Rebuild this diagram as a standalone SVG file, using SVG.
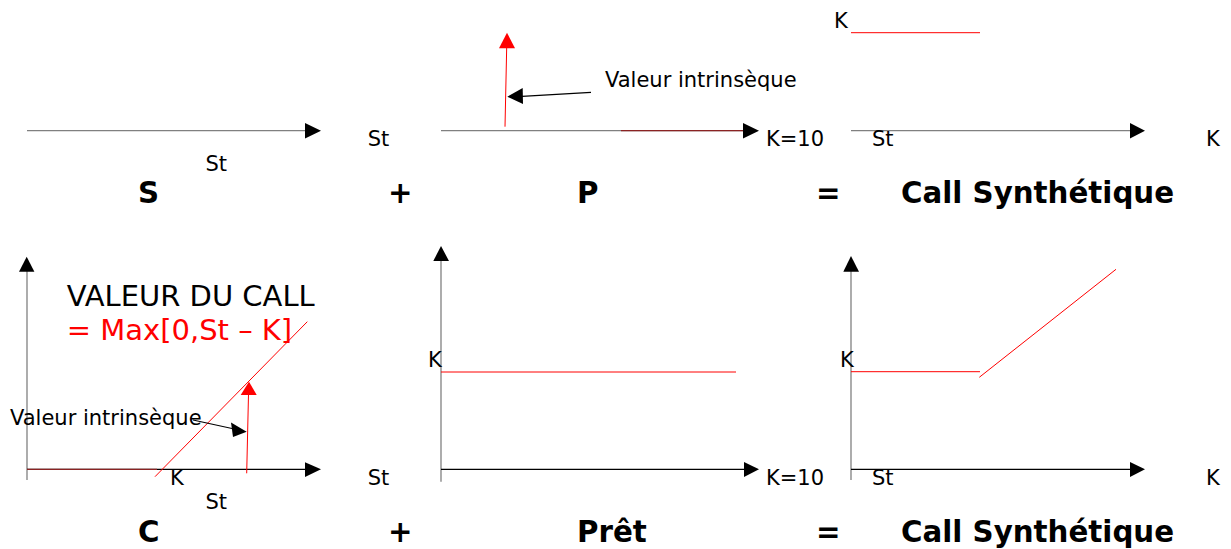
<svg xmlns="http://www.w3.org/2000/svg" width="1231" height="549" viewBox="0 0 1231 549">
<style>
text{font-family:"DejaVu Sans","Liberation Sans",sans-serif;fill:#000}
.s{font-size:21px}
.b{font-size:29.3px;font-weight:bold}
.big{font-size:29px}
.red{fill:#ff0000}
.ax{stroke:#808080;stroke-width:1.3;fill:none}
.axb{stroke:#000;stroke-width:1.3;fill:none}
.rl{stroke:#ff0000;stroke-width:1;fill:none}
.dr{stroke:#8b2323;stroke-width:1.3;fill:none}
.ah{fill:#000}
.rh{fill:#ff0000}
</style>
<rect width="1231" height="549" fill="#fff"/>
<g id="connectors">
<line class="ax" x1="27" y1="130.7" x2="306" y2="130.7"/>
<polygon class="ah" points="305,123 321,130.7 305,138.4"/>
<line class="ax" x1="441" y1="130.7" x2="744" y2="130.7"/>
<line class="dr" x1="621" y1="130.7" x2="744" y2="130.7"/>
<polygon class="ah" points="743,123 759,130.7 743,138.4"/>
<line class="rl" x1="505" y1="126.7" x2="506.7" y2="47"/>
<polygon class="rh" points="499,48.3 507,32.7 515,48.3"/>
<line x1="591" y1="92.3" x2="522" y2="96.3" stroke="#000" stroke-width="1.2"/>
<polygon class="ah" points="522.7,88 507.3,96.7 523,104"/>
<line class="rl" x1="851" y1="32.7" x2="980" y2="32.7"/>
<line class="ax" x1="851" y1="130.7" x2="1131" y2="130.7"/>
<polygon class="ah" points="1130,123 1145,130.7 1130,138.4"/>
<line class="ax" x1="27" y1="271" x2="27" y2="480"/>
<polygon class="ah" points="19,271.7 26.7,256.7 34.4,271.7"/>
<line class="axb" x1="27" y1="469.3" x2="306" y2="469.3"/>
<line class="dr" x1="27" y1="469.3" x2="157" y2="469.3"/>
<polygon class="ah" points="305,462.3 321,469.3 305,477"/>
<line class="rl" x1="155" y1="476.7" x2="307.3" y2="321.7"/>
<line class="rl" x1="246.7" y1="473.3" x2="248.5" y2="394"/>
<polygon class="rh" points="240.7,395 249,381.7 256.7,395"/>
<line x1="193" y1="420" x2="232" y2="428.5" stroke="#000" stroke-width="1.2"/>
<polygon class="ah" points="231,422.5 246.7,431.7 233,437"/>
<line class="ax" x1="441" y1="260" x2="441" y2="481.7"/>
<polygon class="ah" points="433.3,261 441,246 449,261"/>
<line class="axb" x1="441" y1="469.3" x2="745" y2="469.3"/>
<polygon class="ah" points="744,462 759,469.3 744,477"/>
<line class="rl" x1="441" y1="372" x2="736" y2="372"/>
<line class="ax" x1="851" y1="271" x2="851" y2="480"/>
<polygon class="ah" points="843.3,271.7 851,256 859,271.7"/>
<line class="axb" x1="851" y1="469.3" x2="1131" y2="469.3"/>
<polygon class="ah" points="1130,462 1145,469.3 1130,477"/>
<line class="rl" x1="851" y1="371.7" x2="980" y2="371.7"/>
<line class="rl" x1="979.3" y1="377.3" x2="1116" y2="269.3"/>
</g>
<g id="top-labels">
<text class="s" x="367.7" y="145.7">St</text>
<text class="s" x="205.5" y="170.7">St</text>
<text class="s" x="605" y="87.3">Valeur intrinsèque</text>
<text class="s" x="766" y="145.7">K=10</text>
<text class="s" x="834" y="28.3">K</text>
<text class="s" x="872" y="145.7">St</text>
<text class="s" x="1206" y="145.7">K</text>
<text class="b" x="138" y="202.7">S</text>
<text class="b" x="388" y="202.7">+</text>
<text class="b" x="577" y="202.7">P</text>
<text class="b" x="816" y="202.7">=</text>
<text class="b" x="901" y="202.7">Call Synthétique</text>
</g>
<g id="bottom-labels">
<text class="big" x="66.7" y="305.7">VALEUR DU CALL</text>
<text class="big red" x="66.7" y="340">= Max[0,St – K]</text>
<text class="s" x="10" y="425">Valeur intrinsèque</text>
<text class="s" x="170" y="485">K</text>
<text class="s" x="367.7" y="485">St</text>
<text class="s" x="205.5" y="509">St</text>
<text class="s" x="428" y="366.7">K</text>
<text class="s" x="766" y="485">K=10</text>
<text class="s" x="840" y="366.7">K</text>
<text class="s" x="872" y="485">St</text>
<text class="s" x="1206" y="485">K</text>
<text class="b" x="138" y="541.7">C</text>
<text class="b" x="388" y="541.7">+</text>
<text class="b" x="577" y="541.7">Prêt</text>
<text class="b" x="816" y="541.7">=</text>
<text class="b" x="901" y="541.7">Call Synthétique</text>
</g>
</svg>
